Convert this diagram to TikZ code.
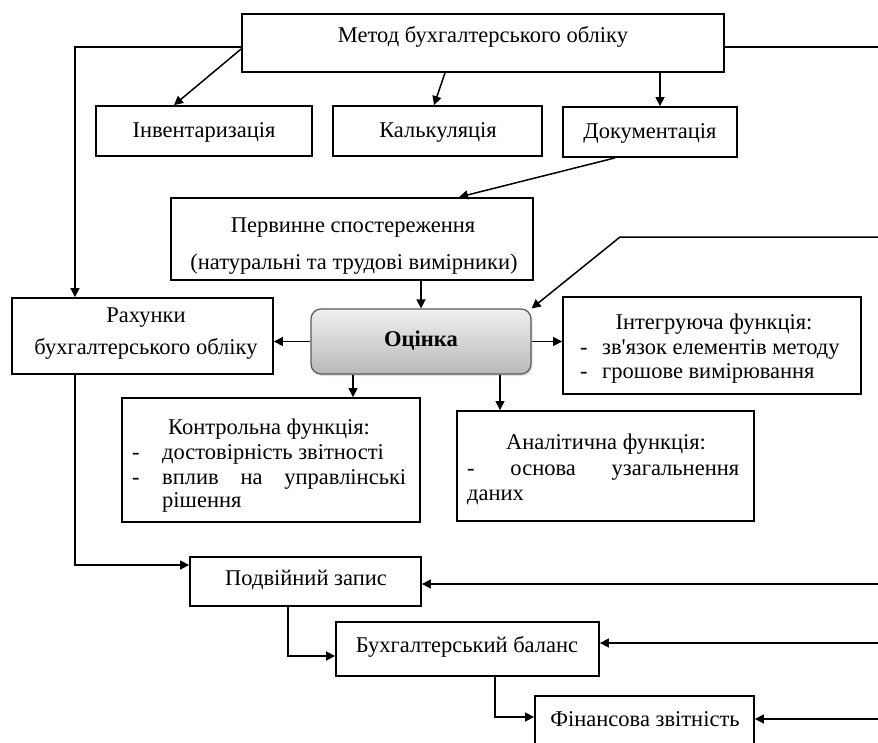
\documentclass[tikz,border=0pt]{standalone}
\usepackage{fontspec}
\setmainfont{Liberation Serif}
\newfontfamily\plainap{Liberation Serif}
\usetikzlibrary{arrows.meta,calc,shadows}
\begin{document}
\begin{tikzpicture}[x=1pt,y=-1pt,
 bx/.style={draw, line width=1.8pt, inner sep=0pt},
 tx/.style={inner sep=0pt, font=\fontsize{22.5}{26}\selectfont, text height=0.7em, text depth=0.2em, yshift=-5pt},
 arr/.style={line width=1.5pt, -{Triangle[length=9pt,width=9pt]}},
 tarr/.style={line width=1.1pt, -{Triangle[length=9pt,width=9pt]}},
 ln/.style={line width=1.5pt}]
\useasboundingbox (0,0) rectangle (878,742);
\clip (0,0) rectangle (878,742);
% boxes
\node[bx, minimum width=482pt, minimum height=58pt] (m) at (483,43) {};
\node[bx, minimum width=216pt, minimum height=50pt] (i) at (204,131) {};
\node[bx, minimum width=209pt, minimum height=50pt] (k) at (437.5,131) {};
\node[bx, minimum width=174pt, minimum height=50pt] (d) at (650,132) {};
\node[bx, minimum width=362pt, minimum height=82pt] (p) at (352,239) {};
\node[draw=gray!70!black, line width=1.2pt, rounded corners=10pt, top color=gray!12, bottom color=gray!55,
      drop shadow={opacity=0.25, shadow xshift=1.5pt, shadow yshift=-2pt}, inner sep=0pt, minimum width=220pt, minimum height=65pt] (o) at (421,341.5) {};
\node[bx, minimum width=261pt, minimum height=76pt] (r) at (142.5,336) {};
\node[bx, minimum width=298pt, minimum height=97pt] (g) at (712,345.5) {};
\node[bx, minimum width=298pt, minimum height=124pt] (c) at (271,460) {};
\node[bx, minimum width=297pt, minimum height=110pt] (a) at (605.5,466) {};
\node[bx, minimum width=231pt, minimum height=49pt] (pd) at (305.5,581.5) {};
\node[bx, minimum width=263pt, minimum height=54pt] (b) at (467.5,649) {};
\node[bx, minimum width=219pt, minimum height=52pt] (f) at (644.5,722) {};
% texts
\node[tx] (tm) at (483,35) {Метод бухгалтерського обліку};
\node[tx] (ti) at (204,130) {Інвентаризація};
\node[tx] (tk) at (438,130) {Калькуляція};
\node[tx] (td) at (650,131) {Документація};
\node[tx] (tp1) at (353,225) {Первинне спостереження};
\node[tx] (tp2) at (354,262) {(натуральні та трудові вимірники)};
\node[tx, font=\fontsize{22.5}{26}\selectfont\bfseries] (to) at (421,339) {Оцінка};
\node[tx] (tr1) at (146,315) {Рахунки};
\node[tx] (tr2) at (146,347) {бухгалтерського обліку};
\node[tx] (tg1) at (714,322) {Інтегруюча функція:};
\node[tx, anchor=west] (tg2d) at (580,347) {-};
\node[tx, anchor=west] (tg2) at (602,347) {зв{\plainap'}язок елементів методу};
\node[tx, anchor=west] (tg3d) at (580,371) {-};
\node[tx, anchor=west] (tg3) at (602,371) {грошове вимірювання};
\node[tx] (tc1) at (269,427) {Контрольна функція:};
\node[tx, anchor=west] (tc2d) at (132,452) {-};
\node[tx, anchor=west] (tc2) at (162,452) {достовірність звітності};
\node[tx, anchor=west] (tc3d) at (132,477) {-};
\node[tx, anchor=west] (tc3) at (162,477) {\makebox[244pt][s]{вплив на управлінські}};
\node[tx, anchor=west] (tc4) at (162,500) {рішення};
\node[tx] (ta1) at (606,442) {Аналітична функція:};
\node[tx, anchor=west] (ta2) at (467,468) {\makebox[272pt][s]{- основа узагальнення}};
\node[tx, anchor=west] (ta3) at (467,493) {даних};
\node[tx] (tpd) at (306,578) {Подвійний запис};
\node[tx] (tb) at (467,645) {Бухгалтерський баланс};
\node[tx] (tf) at (645,719) {Фінансова звітність};
% free ends
\coordinate (L) at (75,0);
\coordinate (R1) at (878,47);
\coordinate (R2) at (878,237);
\coordinate (K2) at (620,237);
\coordinate (R3) at (878,584);
\coordinate (R4) at (878,643);
\coordinate (R5) at (878,719);
% connectors
\draw[arr] ([yshift=-4pt]m.west) -| (L |- r.north);
\draw[ln] ([yshift=-4pt]m.east) -- (R1);
\draw[arr] ([yshift=-6pt]m.west) -- ([xshift=-30pt]i.north);
\draw[arr] ([xshift=-38pt]m.south) -- ([xshift=-3.5pt]k.north);
\draw[arr] ([xshift=10pt]d.north |- m.south) -- ([xshift=10pt]d.north);
\draw[arr] ([xshift=-35pt]d.south) -- ([xshift=107pt]p.north);
\draw[arr] (o.north |- p.south) -- (o.north);
\draw[arr] (R2) -- (K2) -- (o.north east);
\draw[tarr] (o.west) -- (o.west -| r.east);
\draw[tarr] (o.east) -- (o.east -| g.west);
\draw[tarr] ([xshift=-68pt]o.south) -- ([xshift=-68pt]o.south |- c.north);
\draw[tarr] ([xshift=79pt]o.south) -- ([xshift=79pt]o.south |- a.north);
\draw[arr] (L |- r.south) |- ([yshift=16.5pt]pd.west);
\draw[arr] (R3) -- (R3 -| pd.east);
\draw[arr] ([xshift=-17.5pt]pd.south) |- ([yshift=-7pt]b.west);
\draw[arr] (R4) -- (R4 -| b.east);
\draw[arr] ([xshift=27.5pt]b.south) |- ([yshift=5pt]f.west);
\draw[arr] (R5) -- (R5 -| f.east);
\end{tikzpicture}
\end{document}
